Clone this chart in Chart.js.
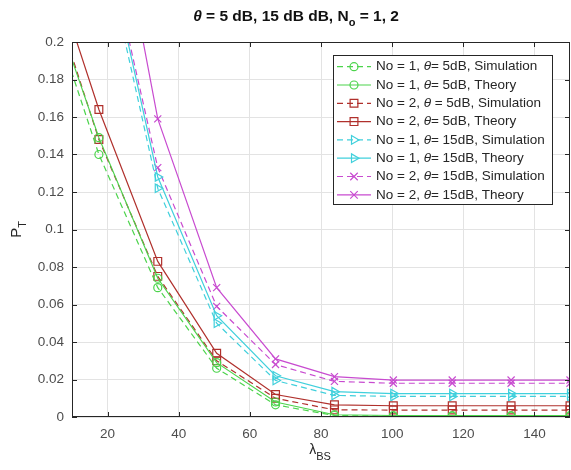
<!DOCTYPE html>
<html>
<head>
<meta charset="utf-8">
<script src="https://cdn.jsdelivr.net/npm/chart.js@4.4.0/dist/chart.umd.min.js"></script>
<style>
  html, body { margin: 0; padding: 0; background: #fff; }
  #wrap { width: 571px; height: 470px; }
</style>
</head>
<body>
<div id="wrap"><canvas id="chart" width="571" height="470"></canvas></div>
<script>
// lambda_BS sample points (linspace 1..150, 10 points)
const lambdaBS = [1, 17.56, 34.11, 50.67, 67.22, 83.78, 100.33, 116.89, 133.44, 150];

// P_T values (first point lies left of the visible axis)
const no1Th5Sim = [0.235, 0.140, 0.069, 0.026, 0.0065, 0.0008, 0.0004, 0.0004, 0.0004, 0.0004];
const no1Th5Theory = [0.240, 0.149, 0.074, 0.029, 0.0080, 0.0012, 0.0008, 0.0008, 0.0008, 0.0008];
const no2Th5Sim = [0.245, 0.148, 0.075, 0.030, 0.0100, 0.0038, 0.0037, 0.0037, 0.0037, 0.0037];
const no2Th5Theory = [0.260, 0.164, 0.083, 0.034, 0.0120, 0.0065, 0.0060, 0.0060, 0.0060, 0.0060];
const no1Th15Sim = [0.400, 0.263, 0.122, 0.050, 0.0195, 0.0115, 0.0110, 0.0110, 0.0110, 0.0110];
const no1Th15Theory = [0.400, 0.270, 0.128, 0.054, 0.0220, 0.0135, 0.0125, 0.0125, 0.0125, 0.0125];
const no2Th15Sim = [0.420, 0.272, 0.133, 0.059, 0.0280, 0.0190, 0.0180, 0.0180, 0.0180, 0.0180];
const no2Th15Theory = [0.500, 0.325, 0.159, 0.069, 0.0310, 0.0215, 0.0197, 0.0197, 0.0197, 0.0197];

const seriesLabels = [
  'No = 1, θ= 5dB, Simulation',
  'No = 1, θ= 5dB, Theory',
  'No = 2, θ = 5dB, Simulation',
  'No = 2, θ= 5dB, Theory',
  'No = 1, θ= 15dB, Simulation',
  'No = 1, θ= 15dB, Theory',
  'No = 2, θ= 15dB, Simulation',
  'No = 2, θ= 15dB, Theory'
];
const seriesValues = [no1Th5Sim, no1Th5Theory, no2Th5Sim, no2Th5Theory,
                      no1Th15Sim, no1Th15Theory, no2Th15Sim, no2Th15Theory];

const xTickValues = [20, 40, 60, 80, 100, 120, 140];
const yTickValues = [0, 0.02, 0.04, 0.06, 0.08, 0.1, 0.12, 0.14, 0.16, 0.18, 0.2];

// styles: colour, dashed?, marker
const GREEN = '#4cd44c', RED = '#b0302c', CYAN = '#40d0dc', MAGENTA = '#c84bd0';
const styles = [
  { color: GREEN, dash: true, marker: 'circle', r: 4 },
  { color: GREEN, dash: false, marker: 'circle', r: 4 },
  { color: RED, dash: true, marker: 'rect', r: 5.5 },
  { color: RED, dash: false, marker: 'rect', r: 5.5 },
  { color: CYAN, dash: true, marker: 'triangle', r: 5 },
  { color: CYAN, dash: false, marker: 'triangle', r: 5 },
  { color: MAGENTA, dash: true, marker: 'crossRot', r: 5 },
  { color: MAGENTA, dash: false, marker: 'crossRot', r: 5 }
];

const FONT = '"Liberation Sans", Arial, sans-serif';
const TEXT = '#262626';

const datasets = seriesValues.map((vals, i) => ({
  label: seriesLabels[i],
  data: vals.map((v, k) => ({ x: lambdaBS[k], y: v })),
  borderColor: styles[i].color,
  backgroundColor: 'rgba(0,0,0,0)',
  borderWidth: 1.2,
  borderDash: styles[i].dash ? [6, 4] : [],
  pointStyle: styles[i].marker,
  pointRotation: styles[i].marker === 'triangle' ? 90 : 0,
  pointRadius: styles[i].r,
  pointBorderColor: styles[i].color,
  pointBackgroundColor: 'rgba(0,0,0,0)',
  pointBorderWidth: 1.2,
  tension: 0
}));

function drawMarker(ctx, style, x, y, r, color) {
  ctx.save();
  ctx.strokeStyle = color;
  ctx.lineWidth = 1.2;
  ctx.setLineDash([]);
  ctx.beginPath();
  if (style === 'circle') {
    ctx.arc(x, y, r, 0, Math.PI * 2);
  } else if (style === 'rect') {
    const s = r * Math.SQRT1_2;
    ctx.rect(x - s, y - s, 2 * s, 2 * s);
  } else if (style === 'triangle') {
    ctx.moveTo(x + r, y);
    ctx.lineTo(x - r / 2, y - r * 0.866);
    ctx.lineTo(x - r / 2, y + r * 0.866);
    ctx.closePath();
  } else if (style === 'crossRot') {
    const s = r * 0.75;
    ctx.moveTo(x - s, y - s); ctx.lineTo(x + s, y + s);
    ctx.moveTo(x + s, y - s); ctx.lineTo(x - s, y + s);
  }
  ctx.stroke();
  ctx.restore();
}

// draw a run of text pieces (font / vertical offset per piece)
function drawParts(ctx, parts, x, y, align) {
  let w = 0;
  parts.forEach(p => { ctx.font = p.f; w += ctx.measureText(p.t).width; });
  let cx = align === 'center' ? x - w / 2 : x;
  parts.forEach(p => {
    ctx.font = p.f;
    ctx.fillText(p.t, cx, y + (p.dy || 0));
    cx += ctx.measureText(p.t).width;
  });
}

function thetaParts(label, size) {
  const idx = label.indexOf('θ');
  return [
    { t: label.slice(0, idx), f: size + 'px ' + FONT },
    { t: 'θ', f: 'italic ' + size + 'px ' + FONT },
    { t: label.slice(idx + 1), f: size + 'px ' + FONT }
  ];
}

const decorPlugin = {
  id: 'matlabDecor',
  afterDraw(chart) {
    const ctx = chart.ctx;
    const a = chart.chartArea;
    const xs = chart.scales.x, ys = chart.scales.y;
    ctx.save();

    // axes box + inward ticks
    ctx.strokeStyle = TEXT;
    ctx.lineWidth = 1;
    ctx.strokeRect(a.left + 0.5, a.top + 0.5, a.right - a.left - 1, a.bottom - a.top - 1);
    ctx.beginPath();
    xTickValues.forEach(v => {
      const px = Math.round(xs.getPixelForValue(v)) + 0.5;
      ctx.moveTo(px, a.bottom); ctx.lineTo(px, a.bottom - 5);
      ctx.moveTo(px, a.top); ctx.lineTo(px, a.top + 5);
    });
    yTickValues.forEach(v => {
      const py = Math.round(ys.getPixelForValue(v)) + 0.5;
      ctx.moveTo(a.left, py); ctx.lineTo(a.left + 5, py);
      ctx.moveTo(a.right, py); ctx.lineTo(a.right - 5, py);
    });
    ctx.stroke();

    ctx.fillStyle = '#111';
    ctx.textBaseline = 'middle';

    // title
    drawParts(ctx, [
      { t: 'θ', f: 'italic bold 15.5px ' + FONT },
      { t: ' = 5 dB, 15 dB dB, N', f: 'bold 15.5px ' + FONT },
      { t: 'o', f: 'bold 11px ' + FONT, dy: 6 },
      { t: ' = 1, 2', f: 'bold 15.5px ' + FONT }
    ], 296, 17, 'center');

    // x label
    ctx.fillStyle = TEXT;
    drawParts(ctx, [
      { t: 'λ', f: '14px ' + FONT },
      { t: 'BS', f: '11px ' + FONT, dy: 7 }
    ], 320, 450, 'center');

    // y label
    ctx.save();
    ctx.translate(17, (a.top + a.bottom) / 2);
    ctx.rotate(-Math.PI / 2);
    drawParts(ctx, [
      { t: 'P', f: '15px ' + FONT },
      { t: 'T', f: '11px ' + FONT, dy: 6 }
    ], 0, 0, 'center');
    ctx.restore();

    // legend box
    const bx = 333, by = 55, bw = 219, bh = 149, rowH = 18.3;
    ctx.fillStyle = '#fff';
    ctx.fillRect(bx, by, bw, bh);
    ctx.strokeStyle = TEXT;
    ctx.lineWidth = 1;
    ctx.strokeRect(bx + 0.5, by + 0.5, bw, bh);
    seriesLabels.forEach((lab, i) => {
      const y = by + 11.7 + i * rowH;
      const st = styles[i];
      ctx.strokeStyle = st.color;
      ctx.lineWidth = 1.2;
      ctx.setLineDash(st.dash ? [6, 4] : []);
      ctx.beginPath();
      ctx.moveTo(bx + 4, y); ctx.lineTo(bx + 38, y);
      ctx.stroke();
      ctx.setLineDash([]);
      drawMarker(ctx, st.marker, bx + 21, y, st.r, st.color);
      ctx.fillStyle = TEXT;
      drawParts(ctx, thetaParts(lab, 13.5), bx + 43, y, 'left');
    });
    ctx.restore();
  }
};

new Chart(document.getElementById('chart'), {
  type: 'line',
  data: { datasets: datasets },
  plugins: [decorPlugin],
  options: {
    responsive: false,
    animation: false,
    devicePixelRatio: 1,
    layout: { autoPadding: false, padding: { top: 42, right: 1, left: 0, bottom: 0 } },
    plugins: {
      legend: { display: false },
      title: { display: false },
      tooltip: { enabled: false }
    },
    scales: {
      x: {
        type: 'linear',
        min: 10,
        max: 150,
        afterFit: s => { s.height = 53; s.paddingLeft = 0; s.paddingRight = 0; },
        afterBuildTicks: s => { s.ticks = xTickValues.map(v => ({ value: v })); },
        grid: { color: '#e3e3e3', drawTicks: false },
        border: { display: false },
        ticks: { padding: 9, color: '#4d4d4d', font: { family: FONT, size: 13.5 } }
      },
      y: {
        type: 'linear',
        min: 0,
        max: 0.2,
        afterFit: s => { s.width = 72; s.paddingTop = 0; s.paddingBottom = 0; },
        afterBuildTicks: s => { s.ticks = yTickValues.map(v => ({ value: v })); },
        grid: { color: '#e3e3e3', drawTicks: false },
        border: { display: false },
        ticks: {
          padding: 8,
          color: '#4d4d4d',
          font: { family: FONT, size: 13.5 },
          callback: v => String(+v.toFixed(2))
        }
      }
    }
  }
});
</script>
</body>
</html>
